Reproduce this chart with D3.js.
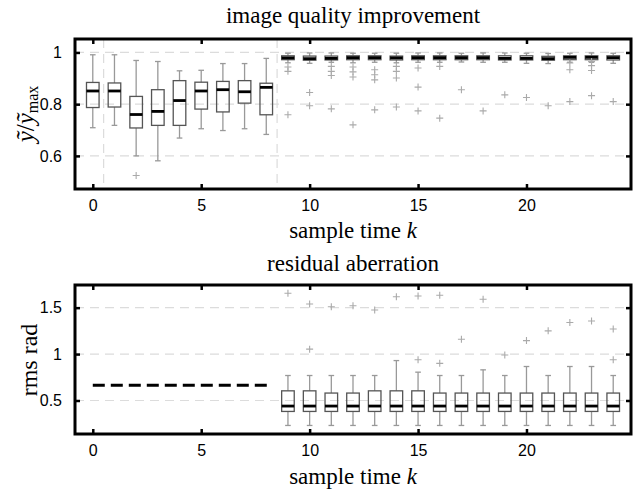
<!DOCTYPE html>
<html><head><meta charset="utf-8">
<script src="https://cdn.jsdelivr.net/npm/d3@7/dist/d3.min.js"></script>
<style>body{margin:0;background:#fff}svg{display:block}</style>
</head><body><svg id="c" width="637" height="489"></svg>
<script>
// ---------- data ----------
const kTop = [0,1,2,3,4,5,6,7,8,9,10,11,12,13,14,15,16,17,18,19,20,21,22,23,24];
const topWhiskerLo = [0.709,0.718,0.600,0.581,0.669,0.705,0.698,0.705,0.683,0.960,0.958,0.962,0.960,0.962,0.960,0.962,0.962,0.963,0.962,0.962,0.958,0.957,0.962,0.962,0.958];
const topQ1        = [0.787,0.789,0.708,0.718,0.718,0.781,0.770,0.804,0.759,0.972,0.970,0.971,0.972,0.972,0.971,0.972,0.972,0.972,0.972,0.971,0.971,0.970,0.972,0.972,0.971];
const topMedian    = [0.851,0.851,0.760,0.772,0.814,0.851,0.856,0.848,0.865,0.979,0.976,0.977,0.980,0.980,0.979,0.980,0.980,0.980,0.980,0.977,0.977,0.976,0.981,0.981,0.980];
const topQ3        = [0.884,0.882,0.830,0.856,0.891,0.885,0.888,0.891,0.881,0.987,0.986,0.986,0.987,0.987,0.986,0.987,0.987,0.987,0.987,0.987,0.987,0.985,0.987,0.987,0.987];
const topWhiskerHi = [0.991,0.991,0.969,0.965,0.929,0.931,0.957,0.957,0.977,0.997,0.998,0.998,0.997,0.997,0.997,0.998,0.998,0.997,0.998,0.998,0.997,0.996,0.997,0.998,0.997];
const topOutliers  = [[],[],[0.524],[],[],[],[],[],[],
  [0.944,0.927,0.759],[0.845,0.794],[0.946,0.927,0.911,0.782],[0.944,0.925,0.905,0.720],
  [0.933,0.914,0.894,0.778],[0.946,0.927,0.901,0.789],[0.940,0.866,0.774],[0.946,0.746],
  [0.856],[0.774],[0.836],[0.826],[0.794],[0.959,0.933,0.810],[0.965,0.949,0.930,0.833],[0.810]];

const kBot = [9,10,11,12,13,14,15,16,17,18,19,20,21,22,23,24];
const botWhiskerLo = [0.231,0.231,0.231,0.231,0.231,0.231,0.231,0.231,0.231,0.231,0.231,0.231,0.231,0.231,0.231,0.231];
const botQ1        = [0.382,0.382,0.382,0.382,0.382,0.382,0.382,0.382,0.382,0.382,0.382,0.382,0.382,0.382,0.382,0.382];
const botMedian    = [0.440,0.440,0.440,0.440,0.440,0.440,0.440,0.440,0.440,0.440,0.440,0.440,0.440,0.440,0.440,0.440];
const botQ3        = [0.604,0.604,0.580,0.580,0.604,0.604,0.604,0.580,0.580,0.580,0.580,0.580,0.580,0.580,0.580,0.580];
const botWhiskerHi = [0.769,0.769,0.769,0.769,0.769,0.930,0.805,0.769,0.769,0.830,0.769,0.866,0.769,0.866,0.866,0.769];
const botOutliers  = [[1.655],[1.54,1.053],[1.51],[1.52],[1.475],[1.618],[1.626,0.938],[1.633,0.90],
  [1.16],[1.59],[0.99],[1.145],[1.25],[1.34],[1.357],[1.27,0.938]];

const initialK = [0,8.25];      // dashed reference line before correction
const initialRms = 0.664;

const xTicks = [0,5,10,15,20];
const xTickLabels = ["0","5","10","15","20"];
const topYTicks = [0.6,0.8,1];
const topYTickLabels = ["0.6","0.8","1"];
const botYTicks = [0.5,1,1.5];
const botYTickLabels = ["0.5","1","1.5"];
const topVGrid = [0.5,8.5];

// ---------- layout ----------
const svg = d3.select("#c");
const L = 75, R = 631;
const x = d3.scaleLinear().domain([-0.82,24.82]).range([L,R]);
const panels = [
  {top:39, bot:189, dom:[0.472,1.052], yt:topYTicks, ytl:topYTickLabels, vgrid:topVGrid,
   title:"image quality improvement", titleY:23, xlabY:238},
  {top:285, bot:434, dom:[0.139,1.744], yt:botYTicks, ytl:botYTickLabels, vgrid:[],
   title:"residual aberration", titleY:271, xlabY:484}
];
const serif = "'Liberation Serif', 'DejaVu Serif', serif";
const sans = "'Liberation Sans', Arial, sans-serif";
const bw = 0.58, cw = 0.26;

panels.forEach((p,i)=>{
  const y = d3.scaleLinear().domain(p.dom).range([p.bot,p.top]);
  p.y = y;
  const g = svg.append("g");
  // grid
  g.selectAll(".hg").data(p.yt).join("line")
    .attr("x1",L).attr("x2",R).attr("y1",d=>y(d)).attr("y2",d=>y(d))
    .attr("stroke","#dcdcdc").attr("stroke-width",1.2).attr("stroke-dasharray","9,6");
  g.selectAll(".vg").data(p.vgrid).join("line")
    .attr("x1",d=>x(d)).attr("x2",d=>x(d)).attr("y1",p.top).attr("y2",p.bot)
    .attr("stroke","#dcdcdc").attr("stroke-width",1.2).attr("stroke-dasharray","9,6");
  // axes
  const ax = g.append("g").attr("transform",`translate(0,${p.bot})`)
    .call(d3.axisBottom(x).tickValues(xTicks).tickFormat((d,j)=>xTickLabels[j]).tickSize(-5).tickPadding(11));
  const axT = g.append("g").attr("transform",`translate(0,${p.top})`)
    .call(d3.axisTop(x).tickValues(xTicks).tickFormat("").tickSize(-5));
  const ayL = g.append("g").attr("transform",`translate(${L},0)`)
    .call(d3.axisLeft(y).tickValues(p.yt).tickFormat((d,j)=>p.ytl[j]).tickSize(-5).tickPadding(13));
  const ayR = g.append("g").attr("transform",`translate(${R},0)`)
    .call(d3.axisRight(y).tickValues(p.yt).tickFormat("").tickSize(-5));
  [ax,axT,ayL,ayR].forEach(a=>{
    a.select(".domain").remove();
    a.selectAll(".tick line").attr("stroke","#000").attr("stroke-width",2.5);
    a.selectAll(".tick text").attr("font-family",sans).attr("font-size",16).attr("fill","#000");
  });
  // frame
  g.append("rect").attr("x",L).attr("y",p.top).attr("width",R-L).attr("height",p.bot-p.top)
    .attr("fill","none").attr("stroke","#000").attr("stroke-width",3);
  // title / labels
  svg.append("text").attr("x",(L+R)/2).attr("y",p.titleY).attr("text-anchor","middle")
    .attr("font-family",serif).attr("font-size",23).text(p.title);
  const xl = svg.append("text").attr("x",(L+R)/2).attr("y",p.xlabY).attr("text-anchor","middle")
    .attr("font-family",serif).attr("font-size",23);
  xl.append("tspan").text("sample time ");
  xl.append("tspan").attr("font-style","italic").text("k");
});

function drawBoxes(p, ks, wlo, q1, med, q3, whi, outs){
  const g = svg.append("g");
  const y = p.y;
  ks.forEach((k,i)=>{
    const cx = x(k), hw = (x(bw)-x(0))/2, hc=(x(cw)-x(0))/2;
    const gray = "#999";
    g.append("line").attr("x1",cx).attr("x2",cx).attr("y1",y(q3[i])).attr("y2",y(whi[i])).attr("stroke",gray).attr("stroke-width",1.3);
    g.append("line").attr("x1",cx).attr("x2",cx).attr("y1",y(q1[i])).attr("y2",y(wlo[i])).attr("stroke",gray).attr("stroke-width",1.3);
    g.append("line").attr("x1",cx-hc).attr("x2",cx+hc).attr("y1",y(whi[i])).attr("y2",y(whi[i])).attr("stroke",gray).attr("stroke-width",1.3);
    g.append("line").attr("x1",cx-hc).attr("x2",cx+hc).attr("y1",y(wlo[i])).attr("y2",y(wlo[i])).attr("stroke",gray).attr("stroke-width",1.3);
    g.append("rect").attr("x",cx-hw).attr("y",y(q3[i])).attr("width",2*hw).attr("height",y(q1[i])-y(q3[i]))
      .attr("fill","none").attr("stroke","#555").attr("stroke-width",1.3);
    g.append("line").attr("x1",cx-hw).attr("x2",cx+hw).attr("y1",y(med[i])).attr("y2",y(med[i])).attr("stroke","#000").attr("stroke-width",2.8);
    outs[i].forEach(v=>{
      const oy = y(v);
      g.append("path").attr("d",`M${cx-3.5},${oy}H${cx+3.5}M${cx},${oy-3.5}V${oy+3.5}`).attr("stroke","#aaa").attr("stroke-width",1.1);
    });
  });
}
drawBoxes(panels[0], kTop, topWhiskerLo, topQ1, topMedian, topQ3, topWhiskerHi, topOutliers);
drawBoxes(panels[1], kBot, botWhiskerLo, botQ1, botMedian, botQ3, botWhiskerHi, botOutliers);

// dashed initial line
svg.append("line").attr("x1",x(initialK[0])).attr("x2",x(initialK[1]))
  .attr("y1",panels[1].y(initialRms)).attr("y2",panels[1].y(initialRms))
  .attr("stroke","#000").attr("stroke-width",3).attr("stroke-dasharray","12,6");

// y labels
const yl1 = svg.append("text").attr("transform","translate(34,114) rotate(-90)").attr("text-anchor","middle")
  .attr("font-family",serif).attr("font-size",25);
yl1.append("tspan").attr("font-style","italic").text("ỹ");
yl1.append("tspan").text("/");
yl1.append("tspan").attr("font-style","italic").text("ỹ");
yl1.append("tspan").attr("font-size",16).attr("dy",4).text("max");
svg.append("text").attr("transform","translate(37,360) rotate(-90)").attr("text-anchor","middle")
  .attr("font-family",serif).attr("font-size",24).text("rms rad");
</script></body></html>
